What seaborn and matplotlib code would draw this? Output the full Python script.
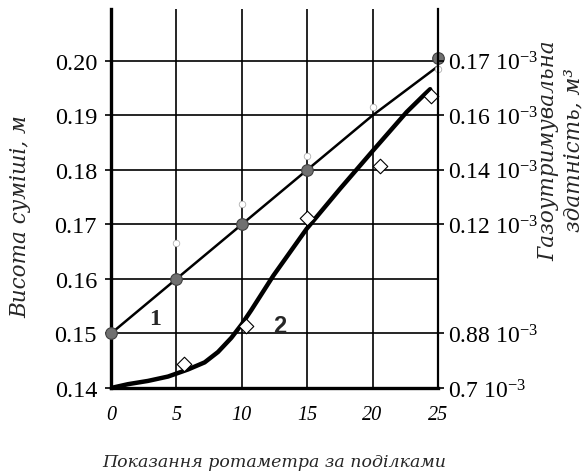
import matplotlib
matplotlib.use("Agg")
import matplotlib.pyplot as plt
import numpy as np
import pandas as pd
import seaborn as sns

# line 1 - height of mixture
x1 = [0, 5, 10, 15, 20, 25]
y1 = [0.150, 0.160, 0.170, 0.180, 0.190, 0.199]
x1_pts = [0, 5, 10, 15, 25]
y1_pts = [0.150, 0.160, 0.170, 0.180, 0.2005]
x1_open = [5, 10, 15, 20, 25]
y1_open = [0.1665, 0.1738, 0.1825, 0.1915, 0.1985]

# line 2 - gas holding capacity
x2 = [0, 1.3, 2.83, 4.36, 5.89, 7.16, 8.18, 9.2, 9.97, 10.73, 11.37, 12.41,
      14.96, 17.5, 20.05, 22.6, 24.0, 24.4]
y2 = [0.1400, 0.1407, 0.1413, 0.1421, 0.1434, 0.1447, 0.1466, 0.1492, 0.1516, 0.1543,
      0.1567, 0.1606, 0.1692, 0.1765, 0.1836, 0.1906, 0.1939, 0.1948]
x2_pts = [5.6, 10.3, 15.0, 20.6, 24.5]
y2_pts = [0.1444, 0.1513, 0.1712, 0.1808, 0.1935]

yticks = [0.14, 0.15, 0.16, 0.17, 0.18, 0.19, 0.20]
yticklabels = ["0.14", "0.15", "0.16", "0.17", "0.18", "0.19", "0.20"]
right_ticks = [0.14, 0.15, 0.17, 0.18, 0.19, 0.20]
right_labels = ["0.7", "0.88", "0.12", "0.14", "0.16", "0.17"]
xticks = [0, 5, 10, 15, 20, 25]

sns.set_style("white")
plt.rcParams["mathtext.fontset"] = "custom"
plt.rcParams["mathtext.rm"] = "Liberation Serif"
plt.rcParams["mathtext.it"] = "Liberation Serif:italic"

fig = plt.figure(figsize=(5.83, 4.77), dpi=100)
ax = fig.add_axes([0.1904, 0.1845, 0.5609, 0.7945])

sns.lineplot(x=x1, y=y1, ax=ax, color="black", lw=1.8, zorder=3)
sns.scatterplot(x=x1_pts, y=y1_pts, ax=ax, color="#707070", edgecolor="#404040",
                s=70, linewidth=0.8, zorder=5, clip_on=False)
sns.scatterplot(x=x1_open, y=y1_open, ax=ax, color="white", edgecolor="#b0b0b0",
                s=22, linewidth=0.6, zorder=4, clip_on=False)
sns.lineplot(x=x2, y=y2, ax=ax, color="black", lw=3.2, zorder=3)
sns.scatterplot(x=x2_pts, y=y2_pts, ax=ax, marker="D", color="white", edgecolor="black",
                s=55, linewidth=0.8, zorder=4, clip_on=False)

ax.set_xlim(0, 25)
ax.set_ylim(0.14, 0.2095)
ax.set_xticks(xticks)
ax.set_xticklabels([str(v) for v in xticks], family="Liberation Serif", style="italic", fontsize=14.5)
ax.set_yticks(yticks)
ax.set_yticklabels(yticklabels, family="Liberation Serif", fontsize=17.5)
ax.grid(True, color="black", lw=1.2)
ax.set_axisbelow(True)
ax.tick_params(axis="both", direction="out", length=4, width=1.2, colors="black", pad=6)
ax.tick_params(axis="x", pad=8)
ax.spines["top"].set_visible(False)
ax.spines["right"].set_visible(False)
ax.spines["left"].set_linewidth(2.4)
ax.spines["bottom"].set_linewidth(2.4)
for s in ["left", "bottom"]:
    ax.spines[s].set_color("black")

ax.text(3.35, 0.1527, "1", family="Liberation Serif", weight="bold", fontsize=17,
        ha="center", va="center")
ax.text(12.9, 0.1514, "2", family="Liberation Sans", weight="bold", fontsize=17,
        ha="center", va="center")

ax.set_xlabel("Показання ротаметра за поділками", family="DejaVu Serif", style="italic", fontsize=12.5)
ax.xaxis.set_label_coords(0.5, -0.193)
ax.xaxis.label.set_va("center")
ax.set_ylabel("Висота суміші, м", family="DejaVu Serif", style="italic", fontsize=15.5)
ax.yaxis.set_label_coords(-0.278, 0.454)
ax.yaxis.label.set_va("center")

ax2 = ax.twinx()
ax2.set_position(ax.get_position())
ax2.set_ylim(ax.get_ylim())
ax2.set_yticks(right_ticks)
ax2.set_yticklabels([lab + r" $10^{-3}$" for lab in right_labels], family="Liberation Serif", fontsize=17)
ax2.tick_params(axis="y", direction="out", length=4, width=1.2, colors="black", pad=3)
for s in ["top", "left", "bottom"]:
    ax2.spines[s].set_visible(False)
ax2.spines["right"].set_linewidth(1.6)
ax2.spines["right"].set_color("black")
ax2.set_ylabel("Газоутримувальна\nздатність, м³", family="DejaVu Serif", style="italic",
               fontsize=15.5, rotation=90, linespacing=1.2)
ax2.yaxis.set_label_coords(1.375, 0.63)
ax2.yaxis.label.set_va("center")
ax2.yaxis.label.set_ha("center")

fig.savefig("out.png", dpi=100, facecolor="white")
